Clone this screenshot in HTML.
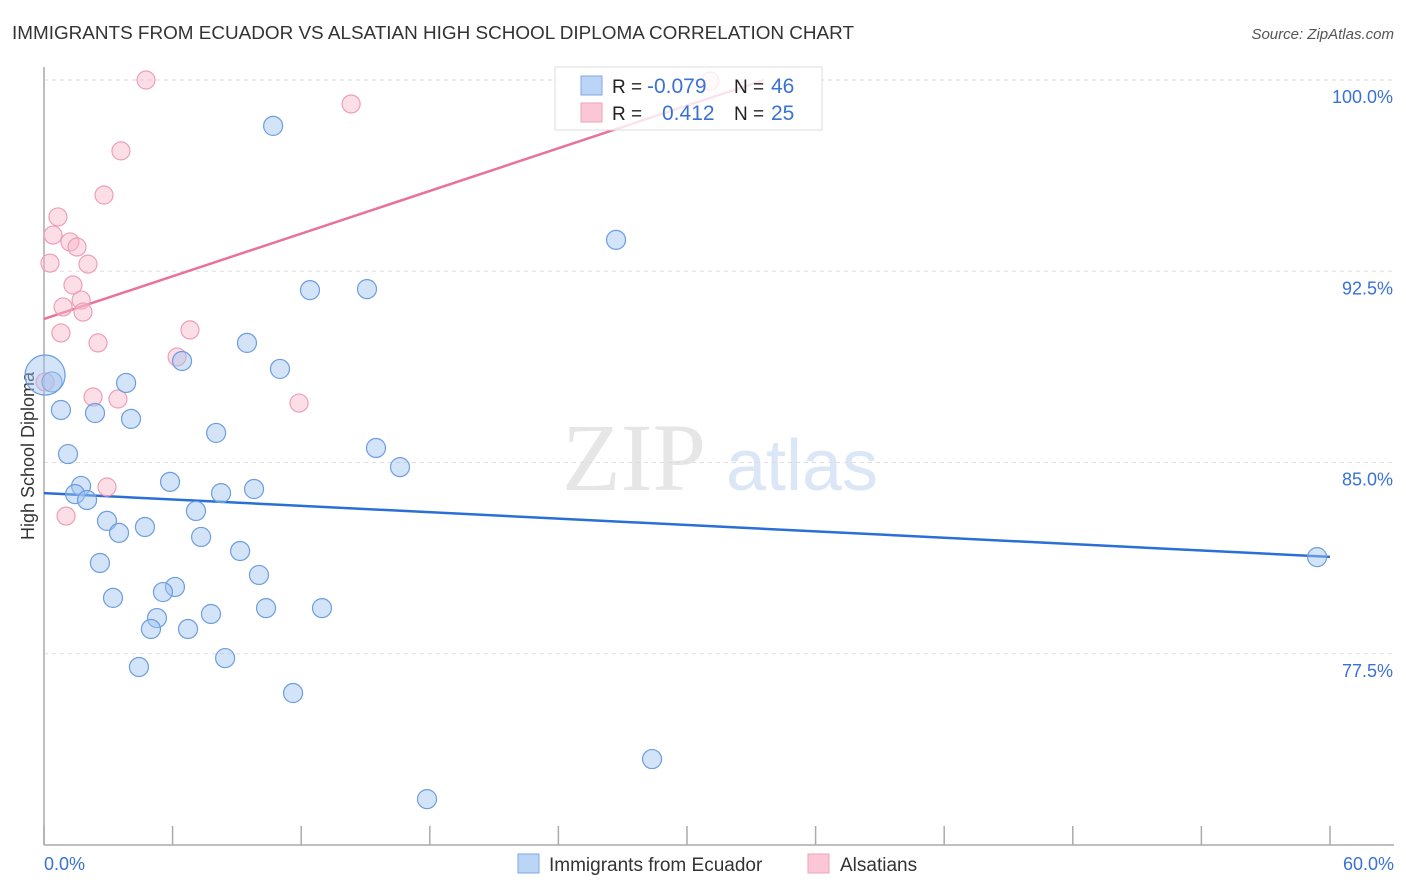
<!DOCTYPE html>
<html><head><meta charset="utf-8"><style>
body{margin:0;background:#fff;font-family:"Liberation Sans",sans-serif;}
#wrap{position:relative;width:1406px;height:892px;overflow:hidden;}
</style></head><body>
<div id="wrap">
<svg id="chart" width="1406" height="892" xmlns="http://www.w3.org/2000/svg">
<text x="12" y="39" font-size="18" fill="#333" textLength="842" lengthAdjust="spacingAndGlyphs">IMMIGRANTS FROM ECUADOR VS ALSATIAN HIGH SCHOOL DIPLOMA CORRELATION CHART</text>
<text x="1394" y="39" font-size="15" fill="#555" font-style="italic" text-anchor="end">Source: ZipAtlas.com</text>
<text x="0" y="0" transform="translate(34,456) rotate(-90)" font-size="18" fill="#333" text-anchor="middle">High School Diploma</text>
<g>
<text x="634" y="490" font-size="96" fill="#e6e6e6" font-family="Liberation Serif,serif" text-anchor="middle">ZIP</text>
<text x="802" y="490" font-size="72" fill="#dbe6f6" text-anchor="middle">atlas</text>
</g>
<g id="grid"></g>
<g id="axes"></g>
<g id="lines"></g>
<g id="points"></g>
<g>
<rect x="555" y="67" width="267" height="63" fill="#fff" fill-opacity="0.8" stroke="#ddd"/>
<rect x="581" y="76" width="21" height="19" fill="#bcd4f5" stroke="#7ea8e4"/>
<rect x="581" y="103" width="21" height="19" fill="#fbc7d6" stroke="#eea3bb"/>
<text x="612" y="93" font-size="19" fill="#222">R = </text><text x="647" y="93" font-size="21" fill="#3a72d4">-0.079</text>
<text x="734" y="93" font-size="19" fill="#222">N = </text><text x="771" y="93" font-size="21" fill="#3a72d4">46</text>
<text x="612" y="120" font-size="19" fill="#222">R = </text><text x="662" y="120" font-size="21" fill="#3a72d4">0.412</text>
<text x="734" y="120" font-size="19" fill="#222">N = </text><text x="771" y="120" font-size="21" fill="#3a72d4">25</text>
</g>
<g>
<rect x="518" y="854" width="21" height="19" fill="#bcd4f5" stroke="#7ea8e4"/>
<text x="549" y="871" font-size="19" fill="#333">Immigrants from Ecuador</text>
<rect x="808" y="854" width="21" height="19" fill="#fbc7d6" stroke="#eea3bb"/>
<text x="840" y="871" font-size="19" fill="#333">Alsatians</text>
</g>
</svg>
</div>
<script>
const blueX=[10.69,26.69,12.41,15.07,9.47,6.44,11.01,3.83,0.37,0.05,0.79,2.38,4.06,8.03,15.49,1.12,16.61,5.88,1.73,9.80,1.45,8.26,2.01,7.09,2.94,4.71,3.50,7.33,9.15,2.61,10.03,6.11,5.55,3.22,10.36,12.97,7.79,5.27,4.99,6.72,8.45,4.43,11.62,28.37,17.87,59.40];
const blueY=[98.20,93.73,91.76,91.80,89.69,88.98,88.67,88.12,88.16,88.43,87.06,86.94,86.71,86.16,85.57,85.33,84.82,84.24,84.08,83.96,83.76,83.80,83.53,83.10,82.71,82.47,82.24,82.08,81.53,81.06,80.59,80.12,79.92,79.69,79.29,79.29,79.06,78.90,78.47,78.47,77.33,76.98,75.96,73.37,71.80,81.29];
const blueR=[9.5,9.5,9.5,9.5,9.5,9.5,9.5,9.5,10,20,9.5,9.5,9.5,9.5,9.5,9.5,9.5,9.5,9.5,9.5,9.5,9.5,9.5,9.5,9.5,9.5,9.5,9.5,9.5,9.5,9.5,9.5,9.5,9.5,9.5,9.5,9.5,9.5,9.5,9.5,9.5,9.5,9.5,9.5,9.5,9.5];
const pinkX=[4.76,14.33,3.59,2.80,0.65,0.42,1.21,1.54,0.28,2.05,1.35,1.73,0.89,1.82,0.79,2.52,6.81,6.21,2.29,3.45,11.90,0.05,2.94,1.03,31.08];
const pinkY=[100.0,99.06,97.22,95.49,94.63,93.92,93.65,93.45,92.82,92.78,91.96,91.37,91.10,90.90,90.08,89.69,90.20,89.14,87.57,87.49,87.33,88.16,84.04,82.90,99.96];
const blueTrend=[83.8,81.3];
const pinkTrend=[90.63,100.0,33.6];
const yTicks=[100,92.5,85,77.5];
const yTickLabels=["100.0%","92.5%","85.0%","77.5%"];
const xTicks=[0,6,12,18,24,30,36,42,48,54,60];
const xEndLabels=["0.0%","60.0%"];

const NS="http://www.w3.org/2000/svg";
const X=v=>44+v*21.433;
const Y=v=>80+(100-v)*25.5;
function mk(tag,attrs,parent){const e=document.createElementNS(NS,tag);for(const k in attrs)e.setAttribute(k,attrs[k]);parent.appendChild(e);return e;}
const grid=document.getElementById('grid'),axes=document.getElementById('axes'),lines=document.getElementById('lines'),pts=document.getElementById('points');
yTicks.forEach((t,i)=>{
  const l=mk('line',{x1:44,x2:1394,y1:Y(t),y2:Y(t),stroke:'#ddd','stroke-dasharray':'4,4'},grid);
  
  
  const tx=mk('text',{x:1393,y:Y(t)+23,'font-size':18,fill:'#3a72d4','text-anchor':'end'},grid);
  tx.textContent=yTickLabels[i];
  
  
});
const ax=mk('line',{x1:44,x2:44,y1:67,y2:845,stroke:'#aaa','stroke-width':1.5},axes);


const bx=mk('line',{x1:44,x2:1394,y1:845,y2:845,stroke:'#aaa','stroke-width':1.5},axes);


xTicks.forEach(t=>{
  const l=mk('line',{x1:X(t),x2:X(t),y1:826,y2:845,stroke:'#aaa','stroke-width':1.5},axes);
  
  
});
const xl0=mk('text',{x:44,y:870,'font-size':18,fill:'#3a72d4'},axes);xl0.textContent=xEndLabels[0];


const xl1=mk('text',{x:1394,y:870,'font-size':18,fill:'#3a72d4','text-anchor':'end'},axes);xl1.textContent=xEndLabels[1];



function dot(x,y,r,fill,stroke,name){
  const c=mk('circle',{cx:X(x),cy:Y(y),r:r,fill:fill,stroke:stroke,'stroke-width':1.2},pts);
  
  
}
pinkX.forEach((x,i)=>dot(x,pinkY[i],9,'rgba(248,182,202,0.45)','#ec9fb8','point-alsatians'));
blueX.forEach((x,i)=>dot(x,blueY[i],blueR[i],'rgba(160,196,240,0.45)','#6b9de0','point-ecuador'));

const bl=mk('line',{x1:X(0),y1:Y(blueTrend[0]),x2:X(60),y2:Y(blueTrend[1]),stroke:'#2a6fd6','stroke-width':2.5},lines);


const pl=mk('line',{x1:X(0),y1:Y(pinkTrend[0]),x2:X(pinkTrend[2]),y2:Y(pinkTrend[1]),stroke:'#e8739a','stroke-width':2.5},lines);


</script>
</body></html>
